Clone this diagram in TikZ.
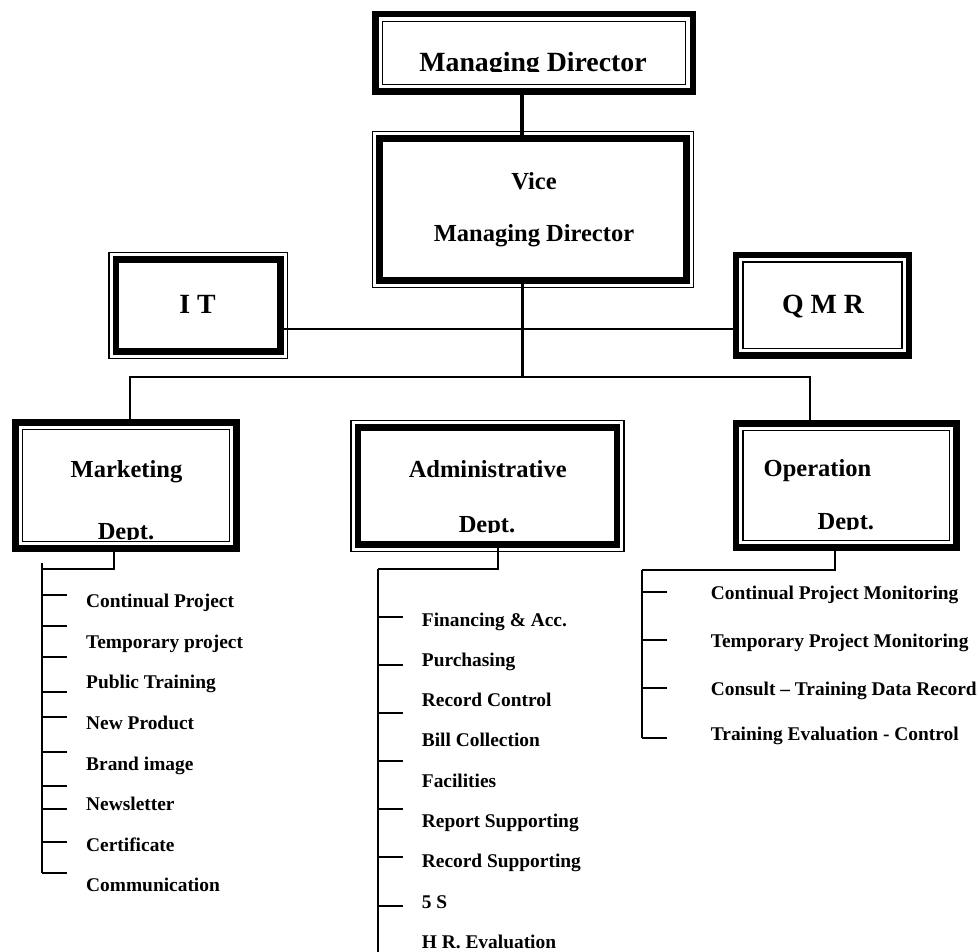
\documentclass[tikz,border=0pt]{standalone}
\usepackage{fontspec}
\setmainfont{Liberation Serif}
\usepackage{tikz}
\usetikzlibrary{positioning}

\tikzset{
  frame/.style={draw, rectangle, line width=6.5pt, inner sep=0pt, outer sep=0pt},
  head/.style={font=\fontsize{27.8}{30}\selectfont\bfseries, inner sep=0pt, anchor=base},
  title/.style={font=\fontsize{24.5}{28}\selectfont\bfseries, inner sep=0pt, anchor=base},
  item/.style={font=\fontsize{19.4}{22}\selectfont\bfseries, inner sep=0pt, anchor=base west},
  bar/.style={line width=2.2pt},
}

\begin{document}
\begin{tikzpicture}[x=1pt,y=-1pt]
	\useasboundingbox (0,0) rectangle (978,952);

	% boxes
	\node[frame, minimum width=317.5pt, minimum height=77.5pt] (md) at (534,53) {};
	\node[frame, minimum width=306.8pt, minimum height=142pt] (vmd) at (533.1,209.7) {};
	\node[frame, minimum width=164.3pt, minimum height=92pt] (it) at (198.2,305.3) {};
	\node[frame, minimum width=173pt, minimum height=100.7pt] (qmr) at (822.5,305.3) {};
	\node[frame, minimum width=221.1pt, minimum height=125.8pt] (mkt) at (126.1,485.5) {};
	\node[frame, minimum width=259pt, minimum height=117pt] (adm) at (487.5,486) {};
	\node[frame, minimum width=220.7pt, minimum height=124.4pt] (opr) at (846.3,485.5) {};

	% thin line inside / outside
	\foreach \n in {md,qmr,mkt,opr}
		\draw[line width=1.3pt] ([shift={(7pt,7pt)}]\n.south west) rectangle ([shift={(-7pt,-7pt)}]\n.north east);
	\foreach \n in {vmd,it,adm}
		\draw[line width=1.3pt] ([shift={(-7pt,-7pt)}]\n.south west) rectangle ([shift={(7pt,7pt)}]\n.north east);

	% box texts
	\begin{scope}
		\clip (360,0) rectangle (700,72);
		\node[head] (md-t) at (533,71.7) {Managing Director};
	\end{scope}
	\node[title] (vmd-t1) at (534,189.3) {Vice};
	\node[title] (vmd-t2) at (534,241.7) {Managing Director};
	\node[head] (it-t) at (197.5,314) {I T};
	\node[head] (qmr-t) at (823,314) {Q M R};
	\node[title] (mkt-t1) at (126.5,477.3) {Marketing};
	\node[title] (adm-t1) at (487.7,477.7) {Administrative};
	\node[title] (opr-t1) at (817.5,476.7) {Operation};
	\begin{scope}
		\clip (0,400) rectangle (300,539) (300,400) rectangle (640,532) (640,400) rectangle (978,529);
		\node[title] (mkt-t2) at (126,539) {Dept.};
		\node[title] (adm-t2) at (487,532) {Dept.};
		\node[title] (opr-t2) at (845.8,529) {Dept.};
	\end{scope}

	% connectors
	\coordinate (spine) at (522,377);
	\coordinate (bus-l) at (130,377);
	\coordinate (bus-r) at (810,377);
	\coordinate (link) at (0,329);
	\draw[line width=4pt] (md.south -| spine) -- (vmd.north -| spine);
	\draw[line width=3pt] (vmd.south -| spine) -- (spine);
	\draw[line width=2.7pt] (it.east |- link) -- (qmr.west |- link);
	\draw[line width=2.5pt] (mkt.north -| bus-l) -- (bus-l) -- (bus-r) -- (opr.north -| bus-r);

	% marketing list
	\coordinate (mk-top) at (42.3,563);
	\coordinate (mk-bot) at (42.3,873.3);
	\coordinate (mk-drop) at (114.3,569.3);
	\draw[bar] (mkt.south -| mk-drop) |- (mk-top |- mk-drop);
	\draw[bar] (mk-top) -- (mk-bot);
	\foreach \y in {595,625.7,657.3,691.7,716.7,751.7,785.7,809.3,841.7,873.3}
		\draw[bar] (42.3,\y) -- +(24.4,0);
	\foreach \t [count=\k from 0] in {Continual Project,Temporary project,Public Training,New Product,Brand image,Newsletter,Certificate,Communication}
		\node[item] (mk-\k) at (86,607.7+40.6*\k) {\t};

	% administrative list
	\coordinate (ad-top) at (378.3,569.3);
	\coordinate (ad-bot) at (378.3,952);
	\coordinate (ad-drop) at (498.3,569.3);
	\draw[bar] (adm.south -| ad-drop) |- (ad-top);
	\draw[bar] (ad-top) -- (ad-bot);
	\foreach \y in {617,665,713,761,809,857,906}
		\draw[bar] (378.3,\y) -- +(24.4,0);
	\foreach \t [count=\k from 0] in {Financing \& Acc.,Purchasing,Record Control,Bill Collection,Facilities,Report Supporting,Record Supporting,5 S,H R. Evaluation}
		\node[item] (ad-\k) at (421.7,626+40.3*\k) {\t};

	% operation list
	\coordinate (op-top) at (642.3,570);
	\coordinate (op-bot) at (642.3,738.3);
	\coordinate (op-drop) at (835,570);
	\draw[bar] (opr.south -| op-drop) |- (op-top);
	\draw[bar] (op-top) -- (op-bot);
	\foreach \y in {592.3,640,688.3,738.3}
		\draw[bar] (642.3,\y) -- +(25,0);
	\node[item] (op-0) at (710.7,599.3) {Continual Project Monitoring};
	\node[item] (op-1) at (710.7,647.3) {Temporary Project Monitoring};
	\node[item] (op-2) at (710.7,695.5) {Consult -- Training Data Record};
	\node[item] (op-3) at (710.7,740) {Training Evaluation - Control};
\end{tikzpicture}
\end{document}
